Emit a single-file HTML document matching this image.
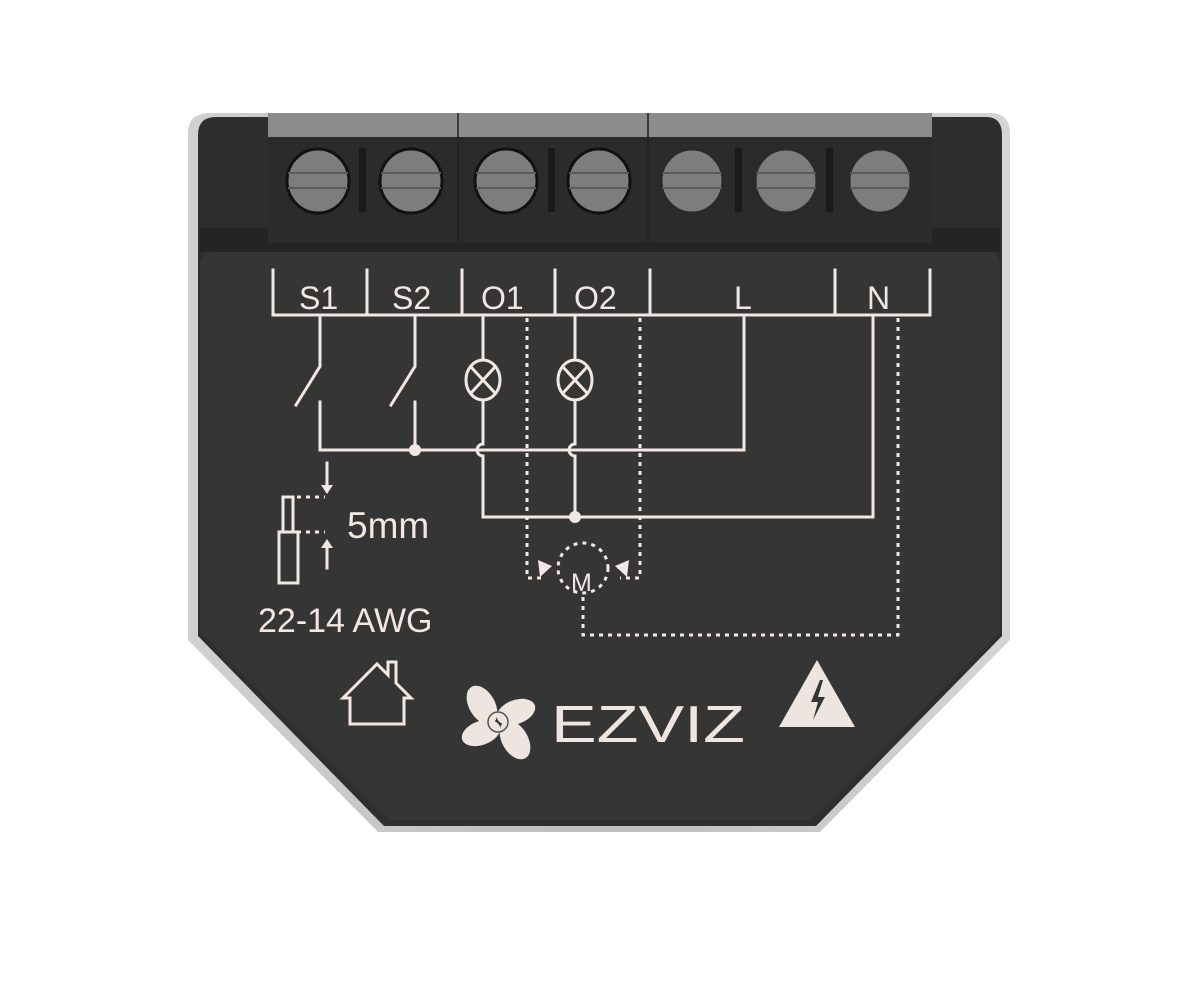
<!DOCTYPE html>
<html><head><meta charset="utf-8"><style>
html,body{margin:0;padding:0;background:#fff;width:1200px;height:990px;overflow:hidden}
svg{display:block}
text{font-family:"Liberation Sans","DejaVu Sans",sans-serif;fill:#f2e8e3}
</style></head><body>
<svg width="1200" height="990" viewBox="0 0 1200 990" xmlns="http://www.w3.org/2000/svg">
<defs>
<linearGradient id="edge" x1="0" x2="1" y1="0" y2="0">
<stop offset="0" stop-color="#d0d0d0"/><stop offset="0.5" stop-color="#bdbdbd"/><stop offset="1" stop-color="#d4d4d4"/>
</linearGradient>
</defs>
<path d="M210 113 H990 Q1010 113 1010 133 V640 L820 832 H378 L188 640 V133 Q188 113 210 113 Z" fill="url(#edge)"/>
<path d="M216 117 H986 Q1002 117 1002 135 V636 L816 826 H384 L198 636 V135 Q198 117 216 117 Z" fill="#2e2e2e"/>
<path d="M222 250 H982 Q1000 250 1000 268 V632 L812 820 H388 L200 632 V268 Q200 250 222 250 Z" fill="#353535"/>
<rect x="200" y="228" width="800" height="24" fill="#242424"/>
<rect x="268" y="113" width="664" height="130" fill="#2b2b2b"/>
<rect x="268" y="113" width="664" height="24" fill="#8c8c8c"/>
<line x1="458" y1="113" x2="458" y2="243" stroke="#222" stroke-width="1.5"/>
<line x1="648" y1="113" x2="648" y2="243" stroke="#222" stroke-width="1.5"/>
<g fill="#1a1a1a">
<rect x="359" y="148" width="7" height="64"/><rect x="548" y="148" width="7" height="64"/>
<rect x="735" y="148" width="7" height="64"/><rect x="826" y="148" width="7" height="64"/>
</g>
<g stroke="#111" stroke-width="3" fill="#7d7d7d">
<ellipse cx="318" cy="181" rx="31" ry="32"/><ellipse cx="411" cy="181" rx="31" ry="32"/>
<ellipse cx="506" cy="181" rx="31" ry="32"/><ellipse cx="599" cy="181" rx="31" ry="32"/>
<ellipse cx="692" cy="181" rx="31" ry="32" stroke="#2a2a2a"/><ellipse cx="786" cy="181" rx="31" ry="32" stroke="#2a2a2a"/>
<ellipse cx="880" cy="181" rx="31" ry="32" stroke="#2a2a2a"/>
</g>
<g stroke="#5a5a5a" stroke-width="2">
<line x1="288" y1="173" x2="348" y2="173"/><line x1="288" y1="188" x2="348" y2="188"/>
<line x1="381" y1="173" x2="441" y2="173"/><line x1="381" y1="188" x2="441" y2="188"/>
<line x1="476" y1="173" x2="536" y2="173"/><line x1="476" y1="188" x2="536" y2="188"/>
<line x1="569" y1="173" x2="629" y2="173"/><line x1="569" y1="188" x2="629" y2="188"/>
<line x1="662" y1="173" x2="722" y2="173"/><line x1="662" y1="188" x2="722" y2="188"/>
<line x1="756" y1="173" x2="816" y2="173"/><line x1="756" y1="188" x2="816" y2="188"/>
<line x1="850" y1="173" x2="910" y2="173"/><line x1="850" y1="188" x2="910" y2="188"/>
</g>
<g stroke="#f2e8e3" stroke-width="3" fill="none" stroke-linecap="square">
<path d="M273 270 V315 H930 V270"/>
<line x1="367" y1="270" x2="367" y2="315"/><line x1="462" y1="270" x2="462" y2="315"/>
<line x1="555" y1="270" x2="555" y2="315"/><line x1="650" y1="270" x2="650" y2="315"/>
<line x1="835" y1="270" x2="835" y2="315"/>
<path d="M320 315 V366 M319 368 L296 405 M320 402 V450"/>
<path d="M415 315 V366 M414 368 L391 405 M415 402 V450"/>
<path d="M320 450 H744 V315"/>
<path d="M483 315 V360 M483 400 V444 A6 6 0 0 0 483 456 V517 H873 V315"/>
<path d="M575 315 V360 M575 400 V444 A6 6 0 0 0 575 456 V517"/>
<ellipse cx="483" cy="380" rx="17" ry="20"/><ellipse cx="575" cy="380" rx="17" ry="20"/>
<path d="M471 367 L495 393 M495 367 L471 393 M563 367 L587 393 M587 367 L563 393"/>
<rect x="283" y="497" width="10" height="35"/><rect x="279" y="532" width="19" height="51"/>
<path d="M327 463 V488 M327 543 V568"/>
</g>
<g fill="#f2e8e3">
<circle cx="415" cy="450" r="6"/><circle cx="575" cy="517" r="6"/>
<path d="M321 485 L333 485 L327 494 Z"/><path d="M321 548 L333 548 L327 539 Z"/>
</g>
<g stroke="#f2e8e3" stroke-width="3" fill="none" stroke-dasharray="4 5">
<path d="M297 497 H325 M297 532 H325"/>
<path d="M527 318 V578 H546"/><path d="M640 318 V578 H620"/>
<path d="M898 318 V635 H583 V595"/>
<circle cx="583" cy="568" r="25"/>
</g>
<g fill="#f2e8e3">
<path d="M538 560 L552 566 L540 577 Z"/><path d="M629 560 L615 566 L627 577 Z"/>
</g>
<g font-size="32">
<text x="299" y="309">S1</text><text x="392" y="309">S2</text>
<text x="481" y="309">O1</text><text x="574" y="309">O2</text>
<text x="734" y="309">L</text><text x="867" y="309">N</text>
</g>
<text x="571" y="591" font-size="25">M</text>
<text x="347" y="538" font-size="37">5mm</text>
<text x="258" y="632" font-size="34">22-14 AWG</text>
<path d="M343 698 L377 664 L388 675 V662 H396 V683 L411 698 H404 V724 H350 V698 Z" fill="none" stroke="#f2e8e3" stroke-width="3"/>
<g fill="#efe5e0">
<ellipse cx="482" cy="705" rx="13" ry="21" transform="rotate(-30 482 705)"/>
<ellipse cx="516" cy="712" rx="20" ry="12" transform="rotate(-20 516 712)"/>
<ellipse cx="481" cy="733" rx="20" ry="12" transform="rotate(-20 481 733)"/>
<ellipse cx="515" cy="740" rx="13" ry="21" transform="rotate(-30 515 740)"/>
</g>
<circle cx="498" cy="722" r="10" fill="none" stroke="#555" stroke-width="1.5"/>
<text x="551" y="742" font-size="52" textLength="194" lengthAdjust="spacingAndGlyphs" style="fill:#efe5e0">EZVIZ</text>
<path d="M817 660 L855 727 H779 Z" fill="#efe5e0"/>
<path d="M820 680 L811 702 H818 L813 720 L825 697 H818 L823 680 Z" fill="#353535"/>
</svg>
</body></html>
